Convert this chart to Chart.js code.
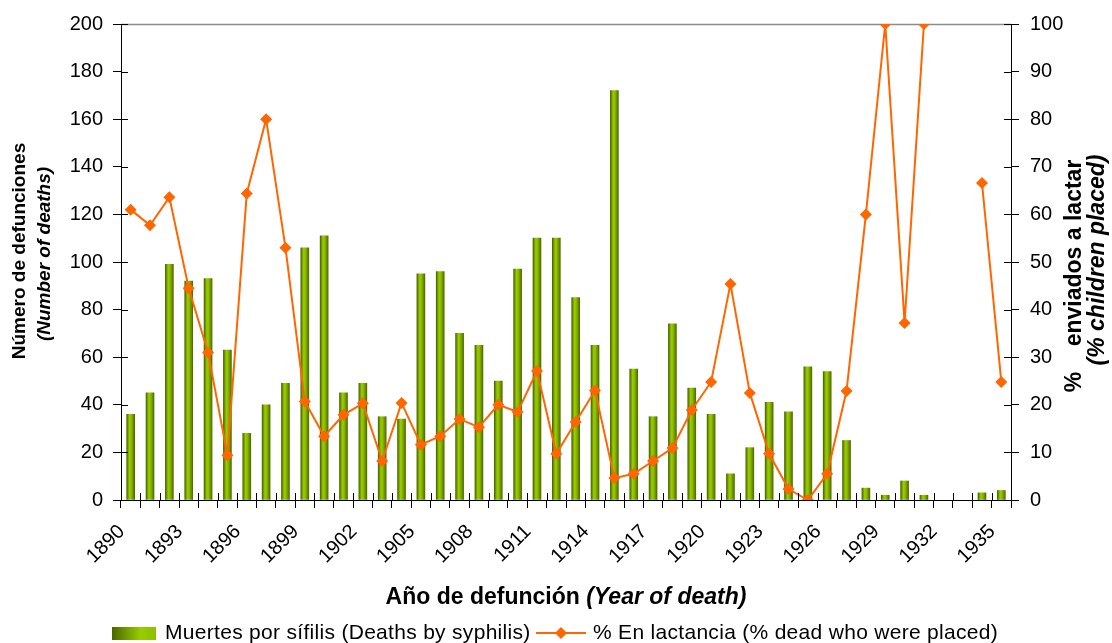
<!DOCTYPE html>
<html>
<head>
<meta charset="utf-8">
<script src="https://cdn.jsdelivr.net/npm/chart.js@4.4.1/dist/chart.umd.min.js"></script>
<style>
  html, body { margin: 0; padding: 0; background: #fff; }
  #wrap { width: 1112px; height: 643px; }
</style>
</head>
<body>
<div id="wrap"><canvas id="chart" width="1112" height="643"></canvas></div>
<script>
// years of death (one category per year)
const years = [1890, 1891, 1892, 1893, 1894, 1895, 1896, 1897, 1898, 1899,
  1900, 1901, 1902, 1903, 1904, 1905, 1906, 1907, 1908, 1909,
  1910, 1911, 1912, 1913, 1914, 1915, 1916, 1917, 1918, 1919,
  1920, 1921, 1922, 1923, 1924, 1925, 1926, 1927, 1928, 1929,
  1930, 1931, 1932, 1933, 1934, 1935];

// deaths by syphilis (left axis)
const deaths = [36, 45, 99, 92, 93, 63, 28, 40, 49, 106,
  111, 45, 49, 35, 34, 95, 96, 70, 65, 50,
  97, 110, 110, 85, 65, 172, 55, 35, 74, 47,
  36, 11, 22, 41, 37, 56, 54, 25, 5, 2,
  8, 2, null, null, 3, 4];

// % of dead who were placed with a wet nurse (right axis)
const placedPct = [61, 57.7, 63.6, 44.5, 31, 9.4, 64.4, 80, 53, 20.7,
  13.4, 17.9, 20.3, 8.2, 20.4, 11.6, 13.4, 17, 15.3, 20,
  18.5, 27.1, 9.7, 16.4, 23, 4.6, 5.5, 8.2, 10.9, 18.9,
  24.8, 45.4, 22.5, 9.7, 2.3, 0, 5.5, 22.9, 60, 100,
  37.2, 100, null, null, 66.6, 24.8];

const deathTicks = [0, 20, 40, 60, 80, 100, 120, 140, 160, 180, 200];
const pctTicks = [0, 10, 20, 30, 40, 50, 60, 70, 80, 90, 100];
const yearLabelEvery = 3;

const FONT = '"Liberation Sans", Arial, sans-serif';
const ORANGE = '#ff6600';
const BAR_W = 8;

function barGradient(c, x0, x1) {
  const g = c.createLinearGradient(x0, 0, x1, 0);
  g.addColorStop(0, '#4a6600');
  g.addColorStop(0.35, '#99cc00');
  g.addColorStop(0.55, '#8fbf00');
  g.addColorStop(1, '#4f6c00');
  return g;
}

function legendGradient(c, x0, x1) {
  const g = c.createLinearGradient(x0, 0, x1, 0);
  g.addColorStop(0, '#4a6600');
  g.addColorStop(0.65, '#99cc00');
  g.addColorStop(1, '#8cbf00');
  return g;
}

function setTicks(list) {
  return scale => { scale.ticks = list.map(v => ({ value: v })); };
}

function vText(ctx, text, x, y, font) {
  ctx.save();
  ctx.translate(x, y);
  ctx.rotate(-Math.PI / 2);
  ctx.textAlign = 'center';
  ctx.textBaseline = 'middle';
  ctx.font = font;
  ctx.fillText(text, 0, 0);
  ctx.restore();
}

const decorations = {
  id: 'decorations',
  beforeDatasetsDraw(chart) {
    const { ctx, chartArea: a } = chart;
    ctx.save();
    ctx.strokeStyle = '#8c8c8c';
    ctx.lineWidth = 1.5;
    ctx.beginPath();
    ctx.moveTo(a.left, a.top + 0.5);
    ctx.lineTo(a.right, a.top + 0.5);
    ctx.stroke();
    ctx.restore();
  },
  afterDraw(chart) {
    const { ctx, chartArea: a, scales } = chart;
    ctx.save();
    // inner halves of the crossing tick marks
    ctx.strokeStyle = '#000';
    ctx.lineWidth = 1;
    ctx.beginPath();
    deathTicks.forEach(v => {
      const py = Math.round(scales.y.getPixelForValue(v)) + 0.5;
      ctx.moveTo(a.left, py); ctx.lineTo(a.left + 7, py);
    });
    pctTicks.forEach(v => {
      const py = Math.round(scales.y1.getPixelForValue(v)) + 0.5;
      ctx.moveTo(a.right - 7, py); ctx.lineTo(a.right, py);
    });
    const catW = scales.x.width / years.length;
    for (let i = 0; i <= years.length; i++) {
      const px = Math.round(scales.x.left + i * catW) + 0.5;
      ctx.moveTo(px, a.bottom - 7); ctx.lineTo(px, a.bottom);
    }
    ctx.stroke();

    ctx.fillStyle = '#000';

    // axis titles
    vText(ctx, 'Número de defunciones', 20, 251, 'bold 19px ' + FONT);
    vText(ctx, '(Number of deaths)', 45, 254, 'italic bold 19px ' + FONT);
    vText(ctx, '%    enviados a lactar', 1075, 276, 'bold 23px ' + FONT);
    vText(ctx, '(% children placed)', 1098, 260, 'italic bold 23px ' + FONT);

    // x axis title, mixed bold / bold italic
    ctx.textBaseline = 'middle';
    const t1 = 'Año de defunción ';
    const t2 = '(Year of death)';
    ctx.font = 'bold 23px ' + FONT;
    const w1 = ctx.measureText(t1).width;
    ctx.font = 'italic bold 23px ' + FONT;
    const w2 = ctx.measureText(t2).width;
    const xs = (a.left + a.right) / 2 - (w1 + w2) / 2;
    ctx.textAlign = 'left';
    ctx.font = 'bold 23px ' + FONT;
    ctx.fillText(t1, xs, 598);
    ctx.font = 'italic bold 23px ' + FONT;
    ctx.fillText(t2, xs + w1, 598);

    // legend
    const ly = 633;
    ctx.fillStyle = legendGradient(ctx, 112, 156);
    ctx.fillRect(112, ly - 6, 44, 13);
    ctx.fillStyle = '#000';
    ctx.font = '21px ' + FONT;
    ctx.letterSpacing = '0.3px';
    ctx.fillText(chart.data.datasets[0].label, 165, ly);
    ctx.strokeStyle = ORANGE;
    ctx.lineWidth = 2;
    ctx.beginPath();
    ctx.moveTo(536, ly); ctx.lineTo(586, ly);
    ctx.stroke();
    ctx.fillStyle = ORANGE;
    ctx.beginPath();
    ctx.moveTo(561, ly - 6); ctx.lineTo(567, ly); ctx.lineTo(561, ly + 6); ctx.lineTo(555, ly);
    ctx.closePath();
    ctx.fill();
    ctx.fillStyle = '#000';
    ctx.fillText(chart.data.datasets[1].label, 593, ly);
    ctx.restore();
  }
};

new Chart(document.getElementById('chart'), {
  data: {
    labels: years,
    datasets: [
      {
        type: 'bar',
        label: 'Muertes por sífilis (Deaths by syphilis)',
        data: deaths,
        yAxisID: 'y',
        order: 2,
        barThickness: BAR_W,
        backgroundColor: ctx => {
          const chart = ctx.chart;
          if (!chart.chartArea || ctx.dataIndex === undefined) return '#99cc00';
          const cx = chart.scales.x.getPixelForValue(ctx.dataIndex);
          return barGradient(chart.ctx, cx - BAR_W / 2, cx + BAR_W / 2);
        },
        borderWidth: 0
      },
      {
        type: 'line',
        label: '% En lactancia (% dead who were placed)',
        data: placedPct,
        yAxisID: 'y1',
        order: 1,
        borderColor: ORANGE,
        borderWidth: 2,
        backgroundColor: ORANGE,
        pointStyle: 'rectRot',
        pointRadius: 6,
        pointBorderWidth: 0,
        pointBackgroundColor: ORANGE,
        tension: 0,
        spanGaps: false
      }
    ]
  },
  options: {
    responsive: false,
    animation: false,
    layout: { padding: { top: 24, left: 0, right: 0, bottom: 0 } },
    plugins: {
      legend: { display: false },
      tooltip: { enabled: false }
    },
    scales: {
      x: {
        type: 'category',
        offset: true,
        grid: { offset: true, drawOnChartArea: false, tickLength: 8, color: '#000' },
        border: { color: '#000', width: 1 },
        ticks: {
          autoSkip: false,
          minRotation: 45,
          maxRotation: 45,
          color: '#000',
          padding: 12,
          labelOffset: -9,
          font: { family: FONT, size: 20 },
          callback: (v, i) => (i % yearLabelEvery === 0 ? String(years[i]) : '')
        },
        afterFit: s => { s.height = 143; }
      },
      y: {
        position: 'left',
        min: 0,
        max: 200,
        afterBuildTicks: setTicks(deathTicks),
        grid: { drawOnChartArea: false, tickLength: 8, color: '#000' },
        border: { color: '#000', width: 1 },
        ticks: { color: '#000', padding: 10, font: { family: FONT, size: 20 } },
        afterFit: s => { s.width = 121; }
      },
      y1: {
        position: 'right',
        min: 0,
        max: 100,
        afterBuildTicks: setTicks(pctTicks),
        grid: { drawOnChartArea: false, tickLength: 8, color: '#000' },
        border: { color: '#000', width: 1 },
        ticks: { color: '#000', padding: 11, font: { family: FONT, size: 20 } },
        afterFit: s => { s.width = 101; }
      }
    }
  },
  plugins: [decorations]
});
</script>
</body>
</html>
